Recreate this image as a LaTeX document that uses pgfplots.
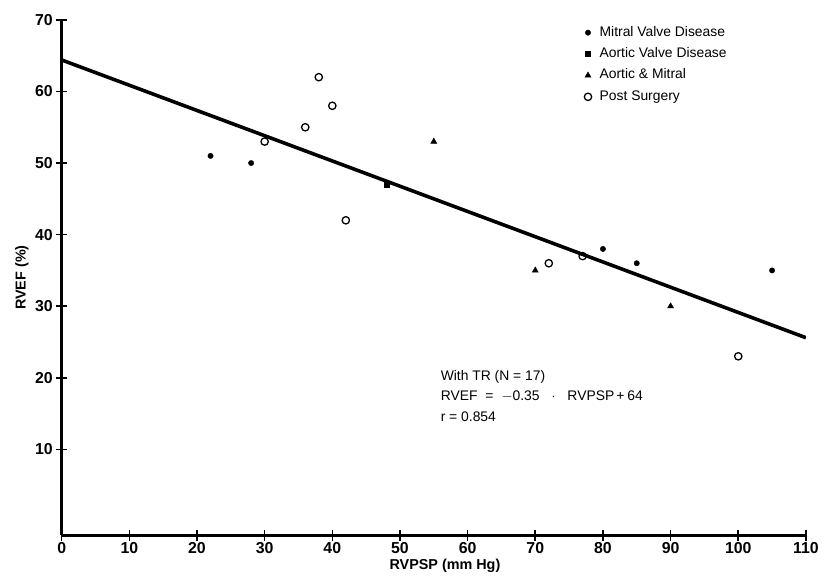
\documentclass[border=0pt]{standalone}
\usepackage{pgfplots}
\pgfplotsset{compat=1.18}
\usepackage{fontspec}
\setmainfont{Liberation Sans}
\begin{document}
\begin{tikzpicture}
\begin{axis}[
    scale only axis,
    width=748bp, height=518bp,
    xmin=0, xmax=110, ymin=-2, ymax=70,
    axis x line=bottom, axis y line=left,
    axis line style={line width=3bp, -},
    xtick={0,10,...,110}, ytick={10,20,...,70},
    major tick length=11bp,
    tick style={line width=1.6bp, black},
    /pgf/number format/assume math mode=true,
    tick label style={font=\fontsize{16}{16}\selectfont\bfseries},
    xticklabel style={yshift=2bp},
    xlabel={RVPSP (mm Hg)}, ylabel={RVEF (\%)},
    label style={font=\fontsize{14.5}{14.5}\selectfont\bfseries},
    xlabel style={at={(axis description cs:0.515,0)}, anchor=center, yshift=-31bp},
    ylabel style={at={(axis description cs:0,0.5)}, anchor=center, yshift=40bp},
    legend style={at={(0.702,0.992)}, anchor=north west, draw=none, fill=none,
        font=\fontsize{14}{14}\selectfont, row sep=4.5bp,
        inner sep=0pt, legend cell align=left,
        nodes={inner sep=2bp, text height=10bp, text depth=3bp},
        /tikz/every odd column/.style={column sep=6bp}},
]
\addplot[only marks, mark=*, mark size=2.7bp, black] coordinates {
(22,51) (28,50) (80,38) (85,36) (105,35)};
\addlegendentry{Mitral Valve Disease}
\addplot[only marks, mark=square*, mark size=2.5bp, black] coordinates {
(48,47)};
\addlegendentry{Aortic Valve Disease}
\addplot[only marks, mark=triangle*, mark size=3.5bp, black] coordinates {
(55,53) (70,35) (90,30)};
\addlegendentry{Aortic \& Mitral}
\addplot[only marks, mark=o, mark size=3.7bp, line width=1.3bp, black, fill=white] coordinates {
(30,53) (36,55) (38,62) (40,58) (42,42) (72,36) (77,37) (100,23)};
\addlegendentry{Post Surgery}
\addplot[black, line width=3.6bp, forget plot] coordinates {(0,64.4) (110,25.6)};
\node[anchor=north west, align=left, font=\fontsize{14}{21}\selectfont, inner sep=0pt]
  at (axis cs:56,21.1) {With TR (N = 17)\\RVEF\hspace{8bp}=\hspace{8bp}$-$0.35\hspace{12bp}$\cdot$\hspace{12bp}RVPSP\hspace{2bp}+\hspace{3bp}64\\r = 0.854};
\end{axis}
\path (current axis.south west) ++(-62bp,-37bp) rectangle ++(822bp,575bp);
\end{tikzpicture}
\end{document}
